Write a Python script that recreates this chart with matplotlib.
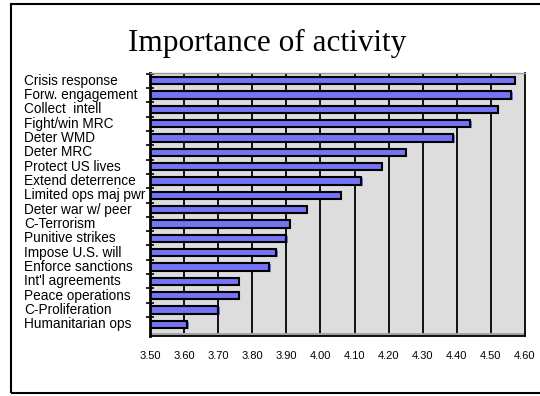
import matplotlib
matplotlib.use("Agg")
import matplotlib.pyplot as plt
import matplotlib.transforms as mtransforms
from matplotlib.patches import Rectangle

# Mean importance rating per activity
activities = [
    "Crisis response", "Forw. engagement", "Collect  intell", "Fight/win MRC",
    "Deter WMD", "Deter MRC", "Protect US lives", "Extend deterrence",
    "Limited ops maj pwr", "Deter war w/ peer", "C-Terrorism", "Punitive strikes",
    "Impose U.S. will", "Enforce sanctions", "Int'l agreements",
    "Peace operations", "C-Proliferation", "Humanitarian ops",
]
scores = [4.57, 4.56, 4.52, 4.44, 4.39, 4.25, 4.18, 4.12, 4.06,
          3.96, 3.91, 3.90, 3.87, 3.85, 3.76, 3.76, 3.70, 3.61]
x_ticks = [3.50, 3.60, 3.70, 3.80, 3.90, 4.00, 4.10, 4.20, 4.30, 4.40, 4.50, 4.60]
x_min, x_max = 3.50, 4.60

W, H = 540, 396
fig = plt.figure(figsize=(W / 100, H / 100), dpi=100)
fig.patch.set_facecolor("white")

# Frame around the whole slide
fig.patches.append(Rectangle((10.5 / W, 1 - 393 / H), 1.2, (393 - 3.5) / H,
                             transform=fig.transFigure, fill=False,
                             edgecolor="black", linewidth=1.5))

fig.text(267 / W, 1 - 43 / H, "Importance of activity", ha="center", va="center",
         fontsize=22.5, family="Liberation Serif")

ax = fig.add_axes([150 / W, 1 - 336 / H, 375 / W, 263 / H])
ax.set_facecolor("#dddddd")

n = len(activities)
ypos = list(range(n))

# Blue offset shadow, then the outlined bars on top
shadow = mtransforms.offset_copy(ax.transData, fig=fig, x=1.5, y=-1.0, units="dots")
ax.barh(ypos, [s - x_min for s in scores], left=x_min, height=0.5,
        color="#7272f2", edgecolor="none", transform=shadow, zorder=3)
ax.barh(ypos, [s - x_min for s in scores], left=x_min, height=0.5,
        color="#7474f4", edgecolor="black", linewidth=1.5, zorder=4)

ax.set_xlim(x_min, x_max)
ax.set_ylim(n - 1 + 0.816, -0.537)

# Vertical grid lines
for xv in x_ticks[1:-1]:
    ax.axvline(xv, color="black", linewidth=1.3, zorder=2)

# Floor strip along the bottom
ax.add_patch(Rectangle((0, 0), 1, 3.5 / 263, transform=ax.transAxes,
                       facecolor="#a4a4a4", edgecolor="none", zorder=5))

ax.spines["top"].set_color("#9a9a9a")
ax.spines["top"].set_linewidth(1.0)
ax.spines["right"].set_color("black")
ax.spines["right"].set_linewidth(1.3)
ax.spines["bottom"].set_color("black")
ax.spines["bottom"].set_linewidth(1.3)
ax.spines["left"].set_color("black")
ax.spines["left"].set_linewidth(2.0)
for sp in ax.spines.values():
    sp.set_zorder(6)

ax.set_xticks(x_ticks)
ax.set_xticklabels([f"{v:.2f}" for v in x_ticks], fontsize=8, family="Liberation Sans")
ax.tick_params(axis="x", length=0, pad=11)

# Category tick marks crossing the left axis
ax.set_yticks([i - 0.5 for i in range(n)])
ax.set_yticklabels([])
ax.tick_params(axis="y", direction="inout", length=6, width=1.2, color="black")

# Left-aligned category labels
lab_tf = mtransforms.blended_transform_factory(fig.transFigure, ax.transData)
for i, name in enumerate(activities):
    ax.text(24 / W, i, name, transform=lab_tf, ha="left", va="center",
            fontsize=9.8, family="Liberation Sans", clip_on=False)

fig.savefig("out.png", dpi=100)
